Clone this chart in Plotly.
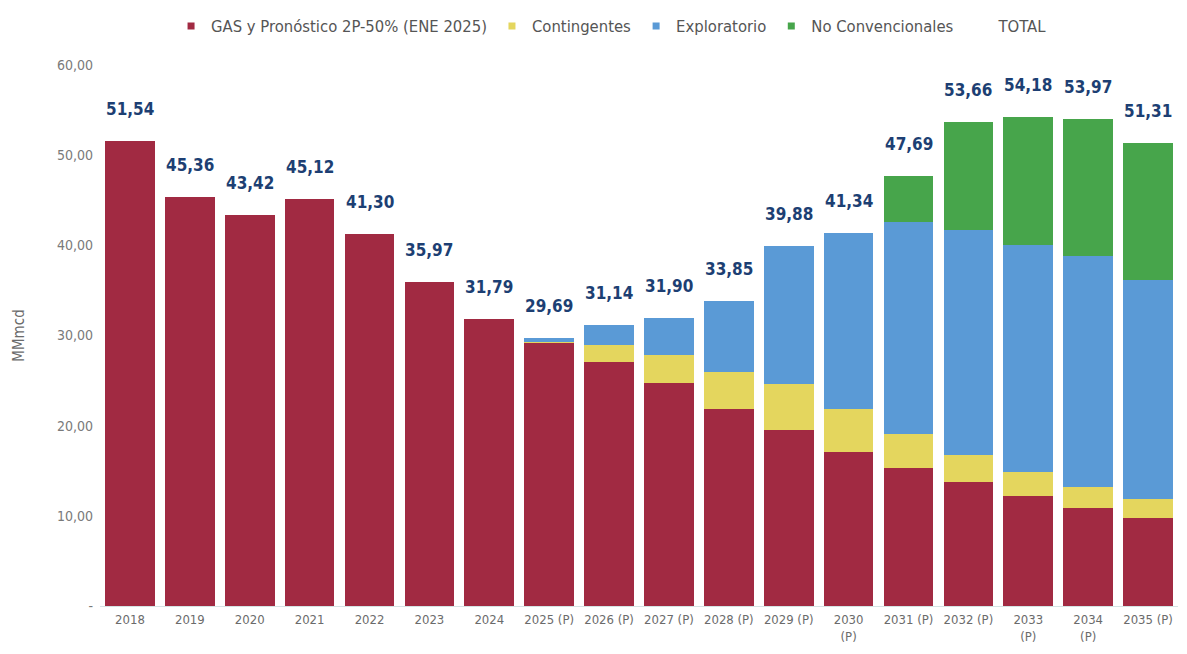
import plotly.graph_objects as go

# datos (MMmcd)
anios = ["2018", "2019", "2020", "2021", "2022", "2023", "2024", "2025 (P)", "2026 (P)",
         "2027 (P)", "2028 (P)", "2029 (P)", "2030<br>(P)", "2031 (P)", "2032 (P)",
         "2033<br>(P)", "2034<br>(P)", "2035 (P)"]
gas_2p = [51.54, 45.36, 43.42, 45.12, 41.30, 35.97, 31.79, 29.19, 27.05, 24.70, 21.90,
          19.50, 17.10, 15.30, 13.80, 12.20, 10.90, 9.80]
contingentes = [0, 0, 0, 0, 0, 0, 0, 0.10, 1.90, 3.10, 4.05, 5.10, 4.80, 3.75, 2.95,
                2.70, 2.30, 2.06]
exploratorio = [0, 0, 0, 0, 0, 0, 0, 0.40, 2.19, 4.10, 7.90, 15.28, 19.44, 23.55, 24.95,
                25.10, 25.60, 24.34]
no_conv = [0, 0, 0, 0, 0, 0, 0, 0, 0, 0, 0, 0, 0, 5.09, 11.96, 14.18, 15.17, 15.11]
total = [51.54, 45.36, 43.42, 45.12, 41.30, 35.97, 31.79, 29.69, 31.14, 31.90, 33.85,
         39.88, 41.34, 47.69, 53.66, 54.18, 53.97, 51.31]

y_ticks = [0, 10, 20, 30, 40, 50, 60]
y_labels = ["-", "10,00", "20,00", "30,00", "40,00", "50,00", "60,00"]

fuente = "DejaVu Sans Condensed, Roboto, sans-serif"

fig = go.Figure()
series = [
    ("GAS y Pronóstico 2P-50% (ENE 2025)", gas_2p, "#A12A42"),
    ("Contingentes", contingentes, "#E4D65E"),
    ("Exploratorio", exploratorio, "#5A9AD6"),
    ("No Convencionales", no_conv, "#47A54B"),
]
for nombre, vals, color in series:
    fig.add_trace(go.Bar(x=anios, y=vals, name=nombre, marker_color=color,
                         marker_line_width=0, showlegend=False))
    # entrada de leyenda con cuadrado chico
    fig.add_trace(go.Scatter(x=[None], y=[None], mode="markers", name=nombre,
                             marker=dict(symbol="square", size=7, color=color)))

# TOTAL solo en la leyenda, etiquetas como anotaciones
fig.add_trace(go.Scatter(x=anios, y=total, mode="lines", line=dict(width=0),
                         name="TOTAL", hoverinfo="skip"))

# indice de categoria para que "2018" no se lea como numero
for i, v in enumerate(total):
    fig.add_annotation(x=i, y=v, text="<b>" + f"{v:.2f}".replace(".", ",") + "</b>",
                       showarrow=False, yanchor="bottom", yshift=20,
                       font=dict(size=17, color="#1D3F73", family=fuente))

# la pagina tiene 8px de margen en el body
fig.update_layout(
    barmode="stack",
    bargap=0.17,
    width=1171, height=638,
    margin=dict(l=92, r=1, t=57, b=40),
    plot_bgcolor="white", paper_bgcolor="white",
    font=dict(family=fuente, size=14, color="#6b6b6b"),
    legend=dict(orientation="h", x=0.475, xanchor="center", y=1.104, yanchor="top",
                font=dict(size=16.5, color="#555555"), itemwidth=30,
                traceorder="normal"),
    xaxis=dict(type="category", range=[-0.5, len(anios) - 0.5], showgrid=False,
               showline=True, linecolor="#d4e4e4", linewidth=1, ticks="",
               tickangle=0, ticklabelstandoff=1, automargin=False,
               tickfont=dict(size=13, color="#6b6b6b")),
    yaxis=dict(range=[0, 60], tickvals=y_ticks, ticktext=y_labels, showgrid=False,
               zeroline=False, showline=False, ticks="", ticklabelstandoff=6,
               automargin=False,
               title=dict(text="MMmcd", font=dict(size=15, color="#6b6b6b"), standoff=28),
               tickfont=dict(size=14, color="#7a7a7a")),
)

fig.write_html("out.html")
